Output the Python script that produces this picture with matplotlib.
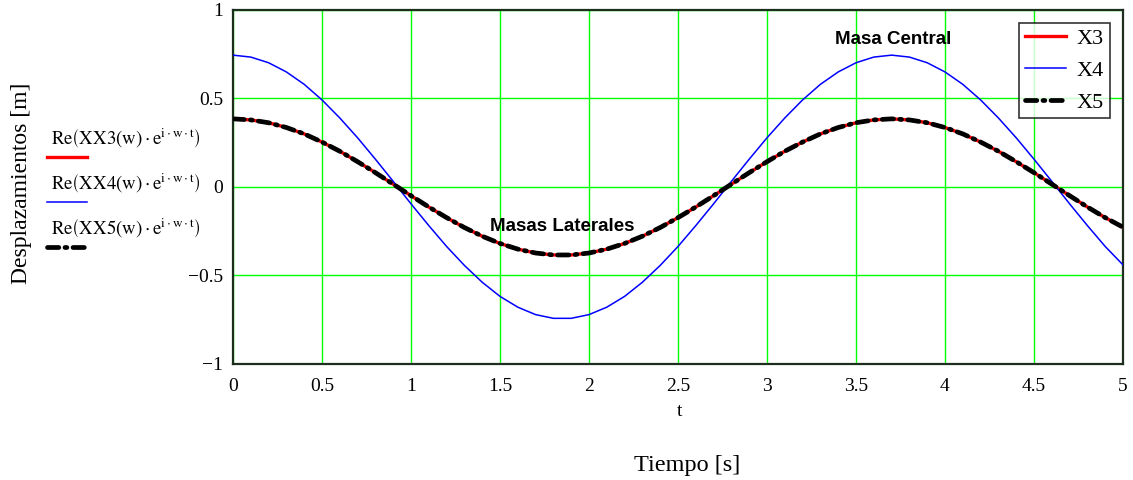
import numpy as np
import matplotlib
matplotlib.use("Agg")
import matplotlib.pyplot as plt
from matplotlib.lines import Line2D

plt.rcParams['font.family'] = ['Liberation Serif', 'DejaVu Serif']
plt.rcParams['mathtext.fontset'] = 'stix'

# muestras (paso 0.1 s)
t = [i / 10 for i in range(51)]
x3 = [0.385, 0.379, 0.363, 0.336, 0.300, 0.254, 0.202, 0.143, 0.081, 0.016,
      -0.049, -0.113, -0.173, -0.229, -0.278, -0.319, -0.351, -0.373, -0.384, -0.384,
      -0.373, -0.351, -0.319, -0.278, -0.229, -0.173, -0.113, -0.049, 0.016, 0.081,
      0.143, 0.202, 0.254, 0.300, 0.336, 0.363, 0.379, 0.385, 0.379, 0.363,
      0.336, 0.300, 0.254, 0.202, 0.143, 0.081, 0.016, -0.049, -0.113, -0.173,
      -0.227]
x4 = [0.745, 0.734, 0.702, 0.650, 0.580, 0.492, 0.390, 0.278, 0.157, 0.032,
      -0.095, -0.218, -0.336, -0.443, -0.538, -0.618, -0.679, -0.721, -0.742, -0.742,
      -0.721, -0.679, -0.618, -0.538, -0.443, -0.336, -0.218, -0.095, 0.032, 0.157,
      0.278, 0.390, 0.492, 0.580, 0.650, 0.702, 0.734, 0.745, 0.734, 0.702,
      0.650, 0.580, 0.492, 0.390, 0.278, 0.157, 0.032, -0.095, -0.218, -0.336,
      -0.440]
x5 = list(x3)  # coincide con X3

xticks = [0, 0.5, 1, 1.5, 2, 2.5, 3, 3.5, 4, 4.5, 5]
yticks = [-1, -0.5, 0, 0.5, 1]

fig = plt.figure(figsize=(11.33, 4.8), dpi=100)
ax = fig.add_axes([233/1133, 1 - 364/480, (1123-233)/1133, (364-10)/480])

ax.plot(t, x3, color='red', lw=2.4, label='X3', zorder=3)
ax.plot(t, x4, color='#0000ff', lw=1.1, label='X4', zorder=3)
ax.plot(t, x5, color='black', lw=3.4, dashes=(2.4, 1.3, 0.4, 1.3),
        dash_capstyle='round', label='X5', zorder=4)

ax.set_xlim(0, 5)
ax.set_ylim(-1, 1)
ax.set_xticks(xticks)
ax.set_xticklabels(['0', '0.5', '1', '1.5', '2', '2.5', '3', '3.5', '4', '4.5', '5'])
ax.set_yticks(yticks)
ax.set_yticklabels(['\u22121', '\u22120.5', '0', '0.5', '1'])
ax.tick_params(length=0, labelsize=14)
ax.tick_params(axis='x', pad=10)
ax.tick_params(axis='y', pad=7)
ax.grid(True, color='#00ff00', lw=1)
ax.set_axisbelow(True)
for s in ax.spines.values():
    s.set_color('#1e2e1e')
    s.set_linewidth(1.6)

leg = ax.legend(loc='upper right', bbox_to_anchor=(0.985, 0.963), fontsize=16,
                frameon=True, fancybox=False, edgecolor='black',
                handlelength=1.85, borderpad=0.25, labelspacing=0.5,
                handletextpad=0.5, borderaxespad=0)
leg.get_frame().set_linewidth(1.2)

ax.text(3.71, 0.835, 'Masa Central', family='Liberation Sans', weight='bold',
        fontsize=13.5, ha='center', va='center')
ax.text(1.85, -0.222, 'Masas Laterales', family='Liberation Sans', weight='bold',
        fontsize=13.5, ha='center', va='center')

fig.text(680/1133, 1 - 412/480, 't', fontsize=14, ha='center', va='center')
fig.text(687/1133, 1 - 466/480, 'Tiempo [s]', fontsize=17.5, ha='center', va='center')
fig.text(22/1133, 1 - 183/480, 'Desplazamientos [m]', fontsize=17,
         rotation=90, ha='center', va='center')

labels = ['XX3', 'XX4', 'XX5']
cols = ['red', '#0000ff', 'black']
ys = [138, 183, 228]
for lab, c, yy in zip(labels, cols, ys):
    fig.text(51/1133, 1 - yy/480,
             r'$\mathrm{Re}\left(\mathrm{' + lab + r'(w)}\cdot\mathrm{e}^{\mathrm{i}\cdot\mathrm{w}\cdot\mathrm{t}}\right)$',
             fontsize=13.5, ha='left', va='center')
    yl = 1 - (yy + 19) / 480
    if c == 'black':
        ln = Line2D([47/1133, 87/1133], [yl, yl], transform=fig.transFigure,
                    color=c, lw=3.4, dashes=(2.4, 1.3, 0.4, 1.3), dash_capstyle='round')
    elif c == 'red':
        ln = Line2D([47/1133, 87/1133], [yl, yl], transform=fig.transFigure, color=c, lw=2.4)
    else:
        ln = Line2D([47/1133, 87/1133], [yl, yl], transform=fig.transFigure, color=c, lw=1.1)
    fig.add_artist(ln)

fig.savefig('out.png', dpi=100)
